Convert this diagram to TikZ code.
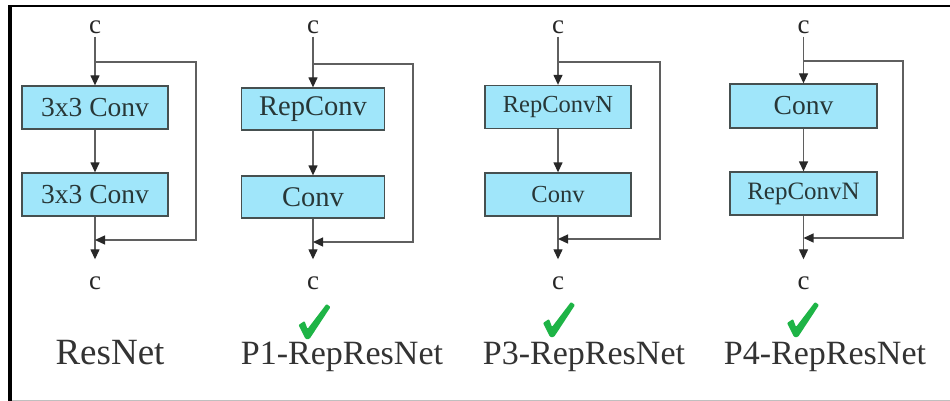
\documentclass[tikz,border=0pt]{standalone}
\usepackage{fontspec}
\setmainfont{Liberation Serif}
\usetikzlibrary{arrows.meta}
\definecolor{boxfill}{RGB}{160,230,250}
\definecolor{boxline}{RGB}{70,80,80}
\definecolor{wirec}{RGB}{95,95,95}
\definecolor{tipc}{RGB}{40,40,40}
\definecolor{txt}{RGB}{40,55,55}
\definecolor{okgreen}{RGB}{30,180,70}

\begin{document}
\begin{tikzpicture}[x=1pt,y=-1pt,
  blk/.style={draw=boxline, fill=boxfill, line width=1.3pt, minimum height=43pt,
              inner sep=0pt, text=txt},
  wire/.style={draw=wirec, line width=1.3pt},
  arr/.style={wire, -{Triangle[width=9pt,length=10pt,fill=tipc,color=tipc]}},
  cnode/.style={inner sep=3pt, font=\fontsize{27}{27}\selectfont, text=black!85},
  lbl/.style={anchor=base, font=\fontsize{34}{34}\selectfont, text=black!80},
  okmark/.pic={\fill[okgreen, rounded corners=1pt]
      (-16,4) -- (-10,0) -- (-7,8) -- (12,-17) -- (16,-14) -- (-5,18) -- (-9,18) -- cycle;},
]
\useasboundingbox (0,0) rectangle (950,401);
\fill[white] (0,0) rectangle (950,401);

% frame
\draw[line width=4pt] (10,401) -- (10,6);
\draw[line width=2.5pt] (8,6) -- (950,6);
\draw[black!25, line width=0.8pt] (12,400) -- (950,400);

% ---------- ResNet ----------
\node[cnode] (t1) at (95,27) {c};
\node[blk, minimum width=146pt, font=\fontsize{27.5}{27.5}\selectfont] (a1) at (95,107.5) {3x3 Conv};
\node[blk, minimum width=146pt, font=\fontsize{27.5}{27.5}\selectfont] (b1) at (95,194.5) {3x3 Conv};
\node[cnode] (e1) at (95,283) {c};
\coordinate (s1) at (95,62);
\coordinate (j1) at (95,240);
\draw[wire] (t1.south) -- (s1);
\draw[arr] (s1) -- (a1);
\draw[arr] (a1) -- (b1);
\draw[arr, shorten >=14pt] (b1) -- (e1);
\draw[arr] (s1) -- (196,62) |- (j1);
\node[lbl, font=\fontsize{37}{37}\selectfont] (n1) at (110,364) {ResNet};

% ---------- P1-RepResNet ----------
\node[cnode] (t2) at (313,27) {c};
\node[blk, minimum width=143pt, minimum height=42pt, font=\fontsize{28.5}{28.5}\selectfont] (a2) at (313,109) {RepConv};
\node[blk, minimum width=143pt, minimum height=42pt, font=\fontsize{28.5}{28.5}\selectfont] (b2) at (313,197) {Conv};
\node[cnode] (e2) at (313,283) {c};
\coordinate (s2) at (313,64);
\coordinate (j2) at (313,242);
\draw[wire] (t2.south) -- (s2);
\draw[arr] (s2) -- (a2);
\draw[arr] (a2) -- (b2);
\draw[arr, shorten >=14pt] (b2) -- (e2);
\draw[arr] (s2) -- (413,64) |- (j2);
\pic (k2) at (314.5,321) {okmark};
\node[lbl] (n2) at (342,364) {P1-RepResNet};

% ---------- P3-RepResNet ----------
\node[cnode] (t3) at (558,27) {c};
\node[blk, minimum width=146pt, font=\fontsize{24.5}{24.5}\selectfont] (a3) at (558,107) {RepConvN};
\node[blk, minimum width=146pt, font=\fontsize{24.5}{24.5}\selectfont] (b3) at (558,194.5) {Conv};
\node[cnode] (e3) at (558,283) {c};
\coordinate (s3) at (558,62);
\coordinate (j3) at (558,239);
\draw[wire] (t3.south) -- (s3);
\draw[arr] (s3) -- (a3);
\draw[arr] (a3) -- (b3);
\draw[arr, shorten >=14pt] (b3) -- (e3);
\draw[arr] (s3) -- (660,62) |- (j3);
\pic (k3) at (559,319) {okmark};
\node[lbl] (n3) at (584,364) {P3-RepResNet};

% ---------- P4-RepResNet ----------
\node[cnode] (t4) at (803.5,27) {c};
\node[blk, minimum width=147pt, minimum height=44pt, font=\fontsize{27.5}{27.5}\selectfont] (a4) at (803.5,106) {Conv};
\node[blk, minimum width=147pt, font=\fontsize{25}{25}\selectfont] (b4) at (803.5,193.5) {RepConvN};
\node[cnode] (e4) at (803.5,283) {c};
\coordinate (s4) at (803.5,61);
\coordinate (j4) at (803.5,238);
\draw[wire] (t4.south) -- (s4);
\draw[arr] (s4) -- (a4);
\draw[arr] (a4) -- (b4);
\draw[arr, shorten >=14pt] (b4) -- (e4);
\draw[arr] (s4) -- (903,61) |- (j4);
\pic (k4) at (803,319) {okmark};
\node[lbl] (n4) at (825,364) {P4-RepResNet};
\end{tikzpicture}
\end{document}
